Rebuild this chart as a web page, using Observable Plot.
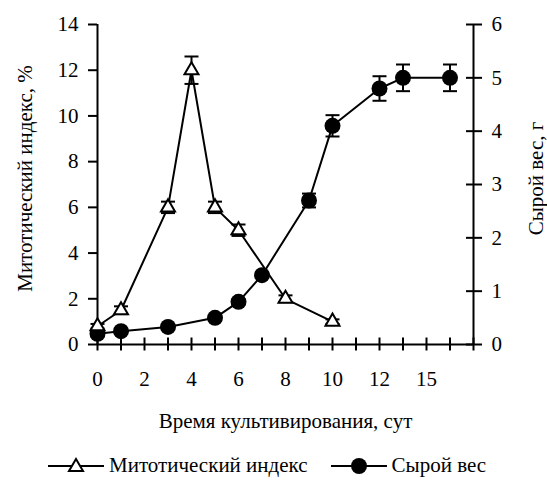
<!DOCTYPE html>
<html>
<head>
<meta charset="utf-8">
<script src="https://cdn.jsdelivr.net/npm/d3@7"></script>
<script src="https://cdn.jsdelivr.net/npm/@observablehq/plot@0.6"></script>
<style>
  html, body { margin: 0; padding: 0; background: #fff; }
  body { width: 547px; height: 483px; overflow: hidden; font-family: "Liberation Serif", serif; }
  #legend { display: flex; align-items: center; height: 35px; padding-left: 48px; font-size: 21px; color: #000; }
  #legend .item { display: flex; align-items: center; }
  #legend svg { display: block; }
</style>
</head>
<body>
<div id="chart"></div>
<div id="legend"></div>
<script>
// ---- data ----
const xTitle = "Время культивирования, сут";
const leftTitle = "Митотический индекс, %";
const rightTitle = "Сырой вес, г";
const seriesNames = ["Митотический индекс", "Сырой вес"];

// x tick positions and their printed labels (last tick is printed as "15")
const xTickValues = [0, 2, 4, 6, 8, 10, 12, 14];
const xTickLabels = ["0", "2", "4", "6", "8", "10", "12", "15"];
const xMinorTicks = d3.range(0, 17);

const leftTicks = [0, 2, 4, 6, 8, 10, 12, 14];
const rightTicks = [0, 1, 2, 3, 4, 5, 6];

// Mitotic index, %
const mitDays = [0, 1, 3, 4, 5, 6, 8, 10];
const mitValues = [0.8, 1.5, 6, 12, 6, 5, 2, 1];
const mitErrors = [0.1, 0.17, 0.25, 0.6, 0.25, 0.25, 0.15, 0.1];

// Fresh weight, g
const wDays = [0, 1, 3, 5, 6, 7, 9, 10, 12, 13, 15];
const wValues = [0.2, 0.25, 0.33, 0.5, 0.8, 1.3, 2.7, 4.1, 4.8, 5.0, 5.0];
const wErrors = [0.05, 0.05, 0.05, 0.05, 0.05, 0.05, 0.13, 0.2, 0.23, 0.25, 0.25];

// ---- build ----
const FONT = "'Liberation Serif', serif";
const FS = 21;
const leftMax = 14, rightMax = 6;
const k = leftMax / rightMax; // map right-axis units onto the shared y scale

const mit = mitDays.map((d, i) => ({x: d, y: mitValues[i], lo: mitValues[i] - mitErrors[i], hi: mitValues[i] + mitErrors[i]}));
const wt = wDays.map((d, i) => ({x: d, y: wValues[i] * k, lo: (wValues[i] - wErrors[i]) * k, hi: (wValues[i] + wErrors[i]) * k}));

const hline = {draw(ctx, size) { const r = Math.sqrt(size / Math.PI); ctx.moveTo(-r, 0); ctx.lineTo(r, 0); }};

const W = 547, H = 448;
const chart = Plot.plot({
  width: W, height: H,
  marginLeft: 97, marginRight: 74, marginTop: 24, marginBottom: H - 344,
  style: {fontFamily: FONT, fontSize: FS + "px", color: "#000", background: "#fff", overflow: "visible"},
  x: {domain: [0, 16]},
  y: {domain: [0, leftMax]},
  marks: [
    Plot.ruleX([0], {stroke: "#000", strokeWidth: 2}),
    Plot.ruleX([16], {stroke: "#000", strokeWidth: 2}),
    Plot.ruleY([0], {stroke: "#000", strokeWidth: 2}),
    Plot.axisX({ticks: xMinorTicks, tickSize: 13, dy: -6.5, text: null, label: null, strokeWidth: 2}),
    Plot.axisX({ticks: xTickValues, tickSize: 0, tickPadding: 27, tickFormat: (d) => xTickLabels[xTickValues.indexOf(d)], label: null, fontSize: FS}),
    Plot.axisY({anchor: "left", ticks: leftTicks, tickSize: 9, tickPadding: 10, strokeWidth: 2, label: null, fontSize: FS}),
    Plot.axisY({anchor: "right", ticks: rightTicks.map(v => v * k), tickSize: 16, dx: -8, text: null, label: null, strokeWidth: 2}),
    Plot.axisY({anchor: "right", ticks: rightTicks.map(v => v * k), tickSize: 0, tickPadding: 18, tickFormat: (d) => String(Math.round(d / k)), label: null, fontSize: FS}),
    Plot.text([xTitle], {frameAnchor: "bottom", lineAnchor: "middle", textAnchor: "middle", dy: 77, text: d => d, fontSize: FS}),
    Plot.text([leftTitle], {frameAnchor: "left", textAnchor: "middle", lineAnchor: "middle", dx: -72, dy: -6, rotate: -90, text: d => d, fontSize: FS}),
    Plot.text([rightTitle], {frameAnchor: "right", textAnchor: "middle", lineAnchor: "middle", dx: 63, dy: -6, rotate: -90, text: d => d, fontSize: FS}),
    Plot.line(wt, {x: "x", y: "y", stroke: "#000", strokeWidth: 2}),
    Plot.ruleX(wt, {x: "x", y1: "lo", y2: "hi", stroke: "#000", strokeWidth: 2}),
    Plot.dot(wt, {x: "x", y: "lo", symbol: hline, r: 7, stroke: "#000", strokeWidth: 2}),
    Plot.dot(wt, {x: "x", y: "hi", symbol: hline, r: 7, stroke: "#000", strokeWidth: 2}),
    Plot.dot(wt, {x: "x", y: "y", r: 8, fill: "#000", stroke: "none"}),
    Plot.line(mit, {x: "x", y: "y", stroke: "#000", strokeWidth: 2}),
    Plot.ruleX(mit, {x: "x", y1: "lo", y2: "hi", stroke: "#000", strokeWidth: 2}),
    Plot.dot(mit, {x: "x", y: "lo", symbol: hline, r: 7, stroke: "#000", strokeWidth: 2}),
    Plot.dot(mit, {x: "x", y: "hi", symbol: hline, r: 7, stroke: "#000", strokeWidth: 2}),
    Plot.dot(mit, {x: "x", y: "y", symbol: "triangle", r: 5.2, fill: "#fff", stroke: "#000", strokeWidth: 2})
  ]
});
document.getElementById("chart").appendChild(chart);

const legend = document.getElementById("legend");
const tri = `<svg width="56" height="20" viewBox="0 0 56 20"><line x1="0" y1="10" x2="56" y2="10" stroke="#000" stroke-width="2"/><path d="M28,3 L35,15 L21,15 Z" fill="#fff" stroke="#000" stroke-width="2"/></svg>`;
const circ = `<svg width="56" height="20" viewBox="0 0 56 20"><line x1="0" y1="10" x2="56" y2="10" stroke="#000" stroke-width="2"/><circle cx="28" cy="10" r="8" fill="#000"/></svg>`;
legend.innerHTML =
  `<div class="item">${tri}<span style="margin-left:5px">${seriesNames[0]}</span></div>` +
  `<div class="item" style="margin-left:23px">${circ}<span style="margin-left:5px">${seriesNames[1]}</span></div>`;
</script>
</body>
</html>
